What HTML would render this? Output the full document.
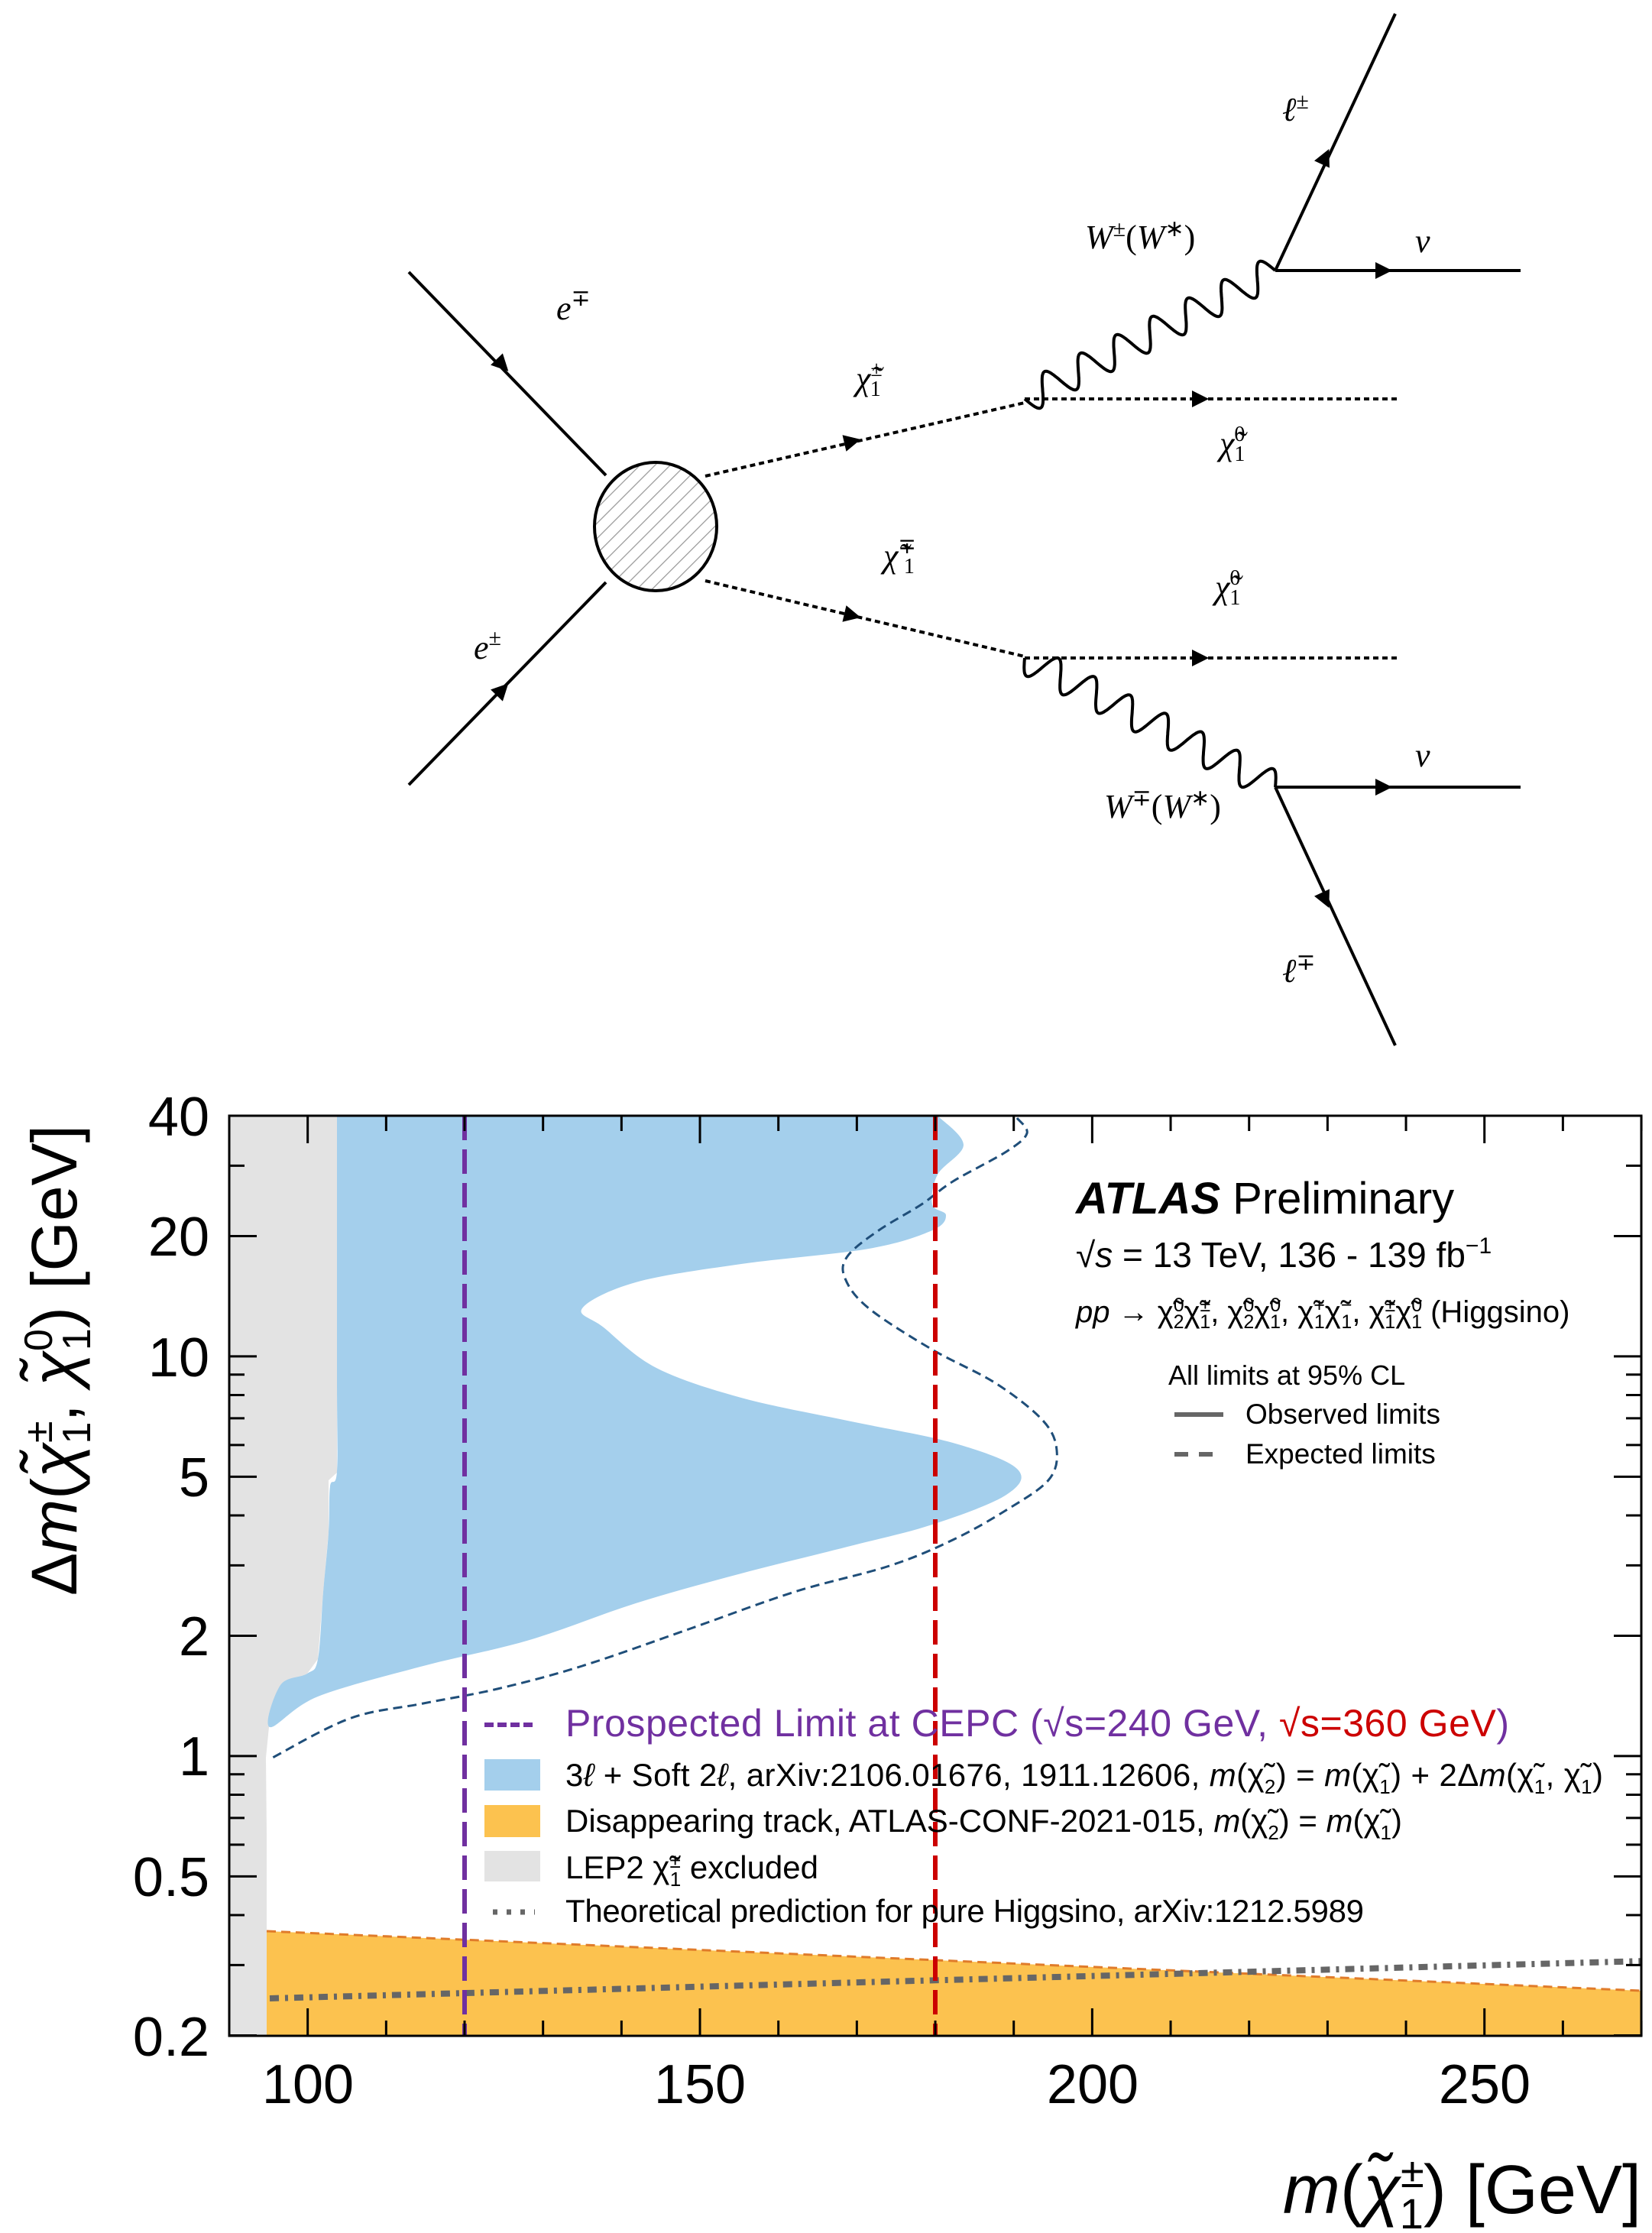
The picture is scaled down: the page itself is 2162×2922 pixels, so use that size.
<!DOCTYPE html>
<html><head><meta charset="utf-8"><style>
html,body{margin:0;padding:0;background:#fff;}
svg{display:block;}
.s{font-family:"Liberation Sans",sans-serif;}
.m{font-family:"Liberation Serif",serif;font-style:italic;}
</style></head><body>
<svg id="c" width="2162" height="2922" viewBox="0 0 2162 2922" xmlns="http://www.w3.org/2000/svg">
<defs>
<pattern id="h" width="14" height="14" patternUnits="userSpaceOnUse" patternTransform="rotate(45)">
<rect width="14" height="14" fill="#fff"/><line x1="0" y1="0" x2="0" y2="14" stroke="#999" stroke-width="2.5"/></pattern>
<clipPath id="pc"><rect x="300" y="1460" width="1848" height="1204"/></clipPath>
</defs>
<g stroke="#000" stroke-width="4" fill="none">
<line x1="535" y1="356" x2="793" y2="622"/>
<line x1="535" y1="1027" x2="793" y2="762"/>
<line x1="1669" y1="354" x2="1990" y2="354"/>
<line x1="1669" y1="354" x2="1826" y2="18"/>
<line x1="1669" y1="1030" x2="1990" y2="1030"/>
<line x1="1669" y1="1030" x2="1826" y2="1368"/>
<g stroke-dasharray="7,5">
<line x1="923" y1="623" x2="1341" y2="527"/>
<line x1="923" y1="760" x2="1341" y2="859"/>
<line x1="1341" y1="522" x2="1829" y2="522"/>
<line x1="1341" y1="861" x2="1829" y2="861"/>
</g>
<path id="w1" d=""/><path id="w2" d=""/>
</g>
<ellipse cx="858" cy="689" rx="80" ry="84" fill="url(#h)" stroke="#000" stroke-width="4"/>
<g fill="#000">
<polygon points="0,-11 22,0 0,11" transform="translate(650,470) rotate(45.9)"/>
<polygon points="0,-11 22,0 0,11" transform="translate(650,910) rotate(-45.9)"/>
<polygon points="0,-11 22,0 0,11" transform="translate(1105,580) rotate(-13)"/>
<polygon points="0,-11 22,0 0,11" transform="translate(1105,803) rotate(13.3)"/>
<polygon points="0,-11 22,0 0,11" transform="translate(1560,522)"/>
<polygon points="0,-11 22,0 0,11" transform="translate(1560,861)"/>
<polygon points="0,-11 22,0 0,11" transform="translate(1800,354)"/>
<polygon points="0,-11 22,0 0,11" transform="translate(1800,1030)"/>
<polygon points="0,-11 22,0 0,11" transform="translate(1730,215) rotate(-65)"/>
<polygon points="0,-11 22,0 0,11" transform="translate(1730,1168) rotate(65)"/>
</g>
<g class="m" font-size="44" fill="#000">
<text x="728" y="418">e<tspan font-size="30" dy="-18" font-style="normal">∓</tspan></text>
<text x="620" y="862">e<tspan font-size="30" dy="-18" font-style="normal">±</tspan></text>
<text x="1120" y="510">χ̃<tspan font-size="28" dy="-18" font-style="normal">±</tspan><tspan font-size="28" dx="-16" dy="26" font-style="normal">1</tspan></text>
<text x="1156" y="742">χ̃<tspan font-size="28" dy="-18" font-style="normal">∓</tspan><tspan font-size="28" dx="-16" dy="26" font-style="normal">1</tspan></text>
<text x="1596" y="595">χ̃<tspan font-size="28" dy="-18" font-style="normal">0</tspan><tspan font-size="28" dx="-14" dy="26" font-style="normal">1</tspan></text>
<text x="1590" y="783">χ̃<tspan font-size="28" dy="-18" font-style="normal">0</tspan><tspan font-size="28" dx="-14" dy="26" font-style="normal">1</tspan></text>
<text x="1420" y="325">W<tspan font-style="normal" font-size="30" dy="-16">±</tspan><tspan font-style="normal" dy="16">(</tspan>W<tspan font-style="normal" font-size="30" dy="-16">∗</tspan><tspan font-style="normal" dy="16">)</tspan></text>
<text x="1445" y="1070">W<tspan font-style="normal" font-size="30" dy="-16">∓</tspan><tspan font-style="normal" dy="16">(</tspan>W<tspan font-style="normal" font-size="30" dy="-16">∗</tspan><tspan font-style="normal" dy="16">)</tspan></text>
<text x="1852" y="330">ν</text>
<text x="1852" y="1003">ν</text>
<text x="1678" y="158">ℓ<tspan font-style="normal" font-size="30" dy="-16">±</tspan></text>
<text x="1678" y="1285">ℓ<tspan font-style="normal" font-size="30" dy="-16">∓</tspan></text>
</g>

<g clip-path="url(#pc)">
<polygon fill="#e3e3e3" points="300,1460 441,1460 441,1927 430,1937 430,2005 423,2083 416,2171 402,2190 370,2210 352,2260 348,2300 349,2400 349,2664 300,2664"/>
<path id="blue" fill="#a4cfec" d=""/>
<path id="exp" fill="none" stroke="#1f4e79" stroke-width="3" stroke-dasharray="12,7" d=""/>
<polygon fill="#fcc24f" points="349,2527 2148,2605 2148,2664 349,2664"/>
<line x1="349" y1="2527" x2="2148" y2="2605" stroke="#e07b2a" stroke-width="3" stroke-dasharray="12,7"/>
<line x1="353" y1="2615" x2="2155" y2="2566" stroke="#666" stroke-width="8" stroke-dasharray="12,8,4,8"/>
<line x1="608" y1="1460" x2="608" y2="2664" stroke="#7030a0" stroke-width="6" stroke-dasharray="32,12"/>
<line x1="1224" y1="1460" x2="1224" y2="2664" stroke="#cc0000" stroke-width="6" stroke-dasharray="32,12"/>
</g>
<g id="ticks" stroke="#000" stroke-width="3"></g>
<rect x="300" y="1460" width="1848" height="1204" fill="none" stroke="#000" stroke-width="3"/>

<g class="s" font-size="72" fill="#000" text-anchor="end">
<text x="274" y="1486">40</text><text x="274" y="1643">20</text><text x="274" y="1801">10</text>
<text x="274" y="1958">5</text><text x="274" y="2166">2</text><text x="274" y="2323">1</text>
<text x="274" y="2481">0.5</text><text x="274" y="2690">0.2</text>
</g>
<g class="s" font-size="72" fill="#000" text-anchor="middle">
<text x="403" y="2752">100</text><text x="916" y="2752">150</text><text x="1430" y="2752">200</text><text x="1943" y="2752">250</text>
</g>
<text class="s" font-size="90" x="2148" y="2896" text-anchor="end"><tspan font-style="italic">m</tspan>(<tspan font-style="italic">χ̃</tspan><tspan font-size="56" dy="-34">±</tspan><tspan font-size="56" dx="-32" dy="54">1</tspan><tspan dy="-20">) [GeV]</tspan></text>
<text class="s" font-size="84" transform="translate(100,1780) rotate(-90)" text-anchor="middle">Δ<tspan font-style="italic">m</tspan>(<tspan font-style="italic">χ̃</tspan><tspan font-size="52" dy="-32">±</tspan><tspan font-size="52" dx="-30" dy="50">1</tspan><tspan dy="-18">, </tspan><tspan font-style="italic">χ̃</tspan><tspan font-size="52" dy="-32">0</tspan><tspan font-size="52" dx="-28" dy="50">1</tspan><tspan dy="-18">) [GeV]</tspan></text>

<g class="s" fill="#000">
<text x="1408" y="1588" font-size="58"><tspan font-weight="bold" font-style="italic">ATLAS</tspan> Preliminary</text>
<text x="1408" y="1658" font-size="46">√<tspan font-style="italic">s</tspan> = 13 TeV, 136 - 139 fb<tspan font-size="30" dy="-18">−1</tspan></text>
<text x="1408" y="1730" font-size="40"><tspan font-style="italic">pp</tspan> → χ̃<tspan font-size="25" dy="-14">0</tspan><tspan font-size="25" dx="-14" dy="22">2</tspan><tspan dy="-8">χ̃</tspan><tspan font-size="25" dy="-14">±</tspan><tspan font-size="25" dx="-14" dy="22">1</tspan><tspan dy="-8">, χ̃</tspan><tspan font-size="25" dy="-14">0</tspan><tspan font-size="25" dx="-14" dy="22">2</tspan><tspan dy="-8">χ̃</tspan><tspan font-size="25" dy="-14">0</tspan><tspan font-size="25" dx="-14" dy="22">1</tspan><tspan dy="-8">, χ̃</tspan><tspan font-size="25" dy="-14">+</tspan><tspan font-size="25" dx="-14" dy="22">1</tspan><tspan dy="-8">χ̃</tspan><tspan font-size="25" dy="-14">−</tspan><tspan font-size="25" dx="-14" dy="22">1</tspan><tspan dy="-8">, χ̃</tspan><tspan font-size="25" dy="-14">±</tspan><tspan font-size="25" dx="-14" dy="22">1</tspan><tspan dy="-8">χ̃</tspan><tspan font-size="25" dy="-14">0</tspan><tspan font-size="25" dx="-14" dy="22">1</tspan><tspan dy="-8"> (Higgsino)</tspan></text>
<text x="1529" y="1812" font-size="36">All limits at 95% CL</text>
<text x="1630" y="1863" font-size="37">Observed limits</text>
<text x="1630" y="1915" font-size="37">Expected limits</text>
</g>
<line x1="1537" y1="1851" x2="1601" y2="1851" stroke="#666" stroke-width="6"/>
<line x1="1537" y1="1903" x2="1601" y2="1903" stroke="#666" stroke-width="6" stroke-dasharray="18,14"/>

<line x1="634" y1="2257" x2="700" y2="2257" stroke="#7030a0" stroke-width="6" stroke-dasharray="12,5"/>
<text class="s" x="740" y="2272" font-size="50" fill="#7030a0" textLength="1235">Prospected Limit at CEPC (√s=240 GeV, <tspan fill="#cc0000">√s=360 GeV</tspan>)</text>
<rect x="634" y="2302" width="73" height="41" fill="#a4cfec"/>
<rect x="634" y="2362" width="73" height="42" fill="#fcc24f"/>
<rect x="634" y="2422" width="73" height="40" fill="#e3e3e3"/>
<line x1="645" y1="2502" x2="700" y2="2502" stroke="#666" stroke-width="7" stroke-dasharray="6,12"/>
<g class="s" font-size="42" fill="#000">
<text x="740" y="2337" textLength="1358">3<tspan font-style="italic">ℓ</tspan> + Soft 2<tspan font-style="italic">ℓ</tspan>, arXiv:2106.01676, 1911.12606, <tspan font-style="italic">m</tspan>(χ̃<tspan font-size="26" dy="10">2</tspan><tspan dy="-10">) = </tspan><tspan font-style="italic">m</tspan>(χ̃<tspan font-size="26" dy="10">1</tspan><tspan dy="-10">) + 2Δ</tspan><tspan font-style="italic">m</tspan>(χ̃<tspan font-size="26" dy="10">1</tspan><tspan dy="-10">, χ̃</tspan><tspan font-size="26" dy="10">1</tspan><tspan dy="-10">)</tspan></text>
<text x="740" y="2397" textLength="1095">Disappearing track, ATLAS-CONF-2021-015, <tspan font-style="italic">m</tspan>(χ̃<tspan font-size="26" dy="10">2</tspan><tspan dy="-10">) = </tspan><tspan font-style="italic">m</tspan>(χ̃<tspan font-size="26" dy="10">1</tspan><tspan dy="-10">)</tspan></text>
<text x="740" y="2458">LEP2 χ̃<tspan font-size="26" dy="-14">±</tspan><tspan font-size="26" dx="-14" dy="24">1</tspan><tspan dy="-10"> excluded</tspan></text>
<text x="740" y="2515" textLength="1045">Theoretical prediction for pure Higgsino, arXiv:1212.5989</text>
</g>
</svg>
<script>
(function(){
function wave(x1,y1,x2,y2,n,a){var dx=x2-x1,dy=y2-y1,L=Math.hypot(dx,dy),px=-dy/L,py=dx/L,d="";
for(var i=0;i<=400;i++){var t=i/400,s=a*Math.sin(t*n*2*Math.PI);var x=x1+dx*t+px*s,y=y1+dy*t+py*s;d+=(i?"L":"M")+x.toFixed(1)+","+y.toFixed(1);}return d;}
document.getElementById("w1").setAttribute("d",wave(1341,522,1669,354,7,20));
document.getElementById("w2").setAttribute("d",wave(1341,861,1669,1030,7,20));
function cr(p,close){var d="M"+p[0][0]+","+p[0][1];var n=p.length;
for(var i=0;i<n-1;i++){var p0=p[Math.max(i-1,0)],p1=p[i],p2=p[i+1],p3=p[Math.min(i+2,n-1)];
d+="C"+(p1[0]+(p2[0]-p0[0])/6).toFixed(1)+","+(p1[1]+(p2[1]-p0[1])/6).toFixed(1)+" "+(p2[0]-(p3[0]-p1[0])/6).toFixed(1)+","+(p2[1]-(p3[1]-p1[1])/6).toFixed(1)+" "+p2[0]+","+p2[1];}
return d+(close?"Z":"");}
var b=[[1227,1460],[1261,1498],[1227,1537],[1220,1576],[1238,1590],[1220,1610],[1137,1634],[970,1654],[832,1678],[762,1712],[790,1737],[859,1790],[970,1829],[1109,1859],[1247,1888],[1331,1922],[1317,1956],[1220,1995],[1109,2024],[970,2059],[832,2098],[693,2146],[554,2180],[416,2220],[353,2260],[367,2205],[402,2190],[416,2171],[423,2083],[430,2005],[432,1945],[441,1925],[441,1800],[441,1460]];
document.getElementById("blue").setAttribute("d",cr(b,true));
var e=[[1331,1463],[1344,1483],[1317,1507],[1247,1546],[1206,1576],[1150,1610],[1109,1644],[1106,1673],[1137,1712],[1220,1766],[1303,1810],[1365,1859],[1383,1898],[1372,1937],[1317,1976],[1247,2015],[1164,2049],[1040,2083],[901,2132],[762,2180],[651,2210],[554,2229],[457,2249],[353,2302]];
document.getElementById("exp").setAttribute("d",cr(e,false));
var g=document.getElementById("ticks"),ns="http://www.w3.org/2000/svg";
function ln(a,b,c,d){var l=document.createElementNS(ns,"line");l.setAttribute("x1",a);l.setAttribute("y1",b);l.setAttribute("x2",c);l.setAttribute("y2",d);g.appendChild(l);}
for(var m=90;m<=270;m+=10){var x=300+(m-90)*10.267;var L=(m%50==0)?36:20;ln(x,2664,x,2664-L);ln(x,1460,x,1460+L);}
var vals=[0.2,0.3,0.4,0.5,0.6,0.7,0.8,0.9,1,2,3,4,5,6,7,8,9,10,20,30,40],maj=[0.2,0.5,1,2,5,10,20,40];
vals.forEach(function(v){var y=1460+(Math.log10(40)-Math.log10(v))*523;var L=maj.indexOf(v)>=0?36:20;ln(300,y,300+L,y);ln(2148,y,2148-L,y);});
})();
</script>
</body></html>
